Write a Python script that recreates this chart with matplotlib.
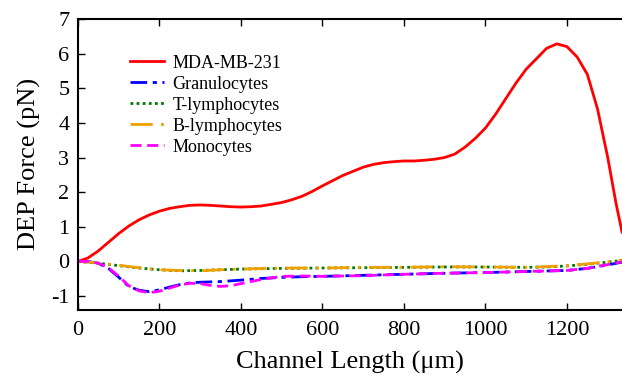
import numpy as np
import matplotlib
matplotlib.use('Agg')
import matplotlib.pyplot as plt

plt.rcParams['font.family'] = ['Liberation Serif', 'DejaVu Serif']
plt.rcParams['axes.unicode_minus'] = False

# red curve, MDA-MB-231
x_mda = [0, 25, 50, 75, 100, 125, 150, 175, 200, 225, 250, 275, 300, 325, 350, 375,
         400, 425, 450, 475, 500, 525, 550, 575, 600, 625, 650, 675, 700, 725, 750,
         775, 800, 825, 850, 875, 900, 925, 950, 975, 1000, 1025, 1050, 1075, 1100,
         1125, 1150, 1175, 1200, 1225, 1250, 1275, 1300, 1320, 1335]
y_mda = [0.0, 0.1, 0.3, 0.55, 0.8, 1.02, 1.2, 1.34, 1.45, 1.53, 1.58, 1.62, 1.63,
         1.62, 1.6, 1.58, 1.57, 1.58, 1.6, 1.65, 1.7, 1.78, 1.88, 2.02, 2.18, 2.33,
         2.48, 2.6, 2.72, 2.8, 2.85, 2.88, 2.9, 2.9, 2.92, 2.95, 3.0, 3.1, 3.3, 3.55,
         3.85, 4.25, 4.7, 5.15, 5.55, 5.85, 6.15, 6.28, 6.2, 5.9, 5.4, 4.4, 3.0, 1.7,
         0.85]

# granulocytes / monocytes
x_gm = [0, 25, 50, 75, 100, 125, 150, 175, 200, 225, 250, 275, 300, 325, 350, 375,
        400, 450, 500, 550, 600, 700, 800, 900, 1000, 1100, 1200, 1250, 1300, 1335]
y_gran = [0, 0, -0.05, -0.2, -0.45, -0.72, -0.83, -0.87, -0.82, -0.74, -0.67, -0.62,
          -0.6, -0.59, -0.58, -0.56, -0.54, -0.49, -0.46, -0.44, -0.43, -0.4, -0.37,
          -0.34, -0.32, -0.29, -0.26, -0.2, -0.1, -0.02]
y_mono = [0, 0, -0.05, -0.18, -0.42, -0.7, -0.85, -0.9, -0.86, -0.77, -0.68, -0.63,
          -0.64, -0.69, -0.72, -0.7, -0.64, -0.52, -0.43, -0.42, -0.43, -0.41, -0.37,
          -0.34, -0.32, -0.29, -0.26, -0.2, -0.09, -0.01]

# T / B lymphocytes
x_lym = [0, 50, 100, 150, 200, 250, 300, 350, 400, 500, 600, 700, 800, 900, 1000,
         1100, 1150, 1200, 1250, 1300, 1335]
y_tlym = [0, -0.05, -0.12, -0.19, -0.24, -0.27, -0.26, -0.24, -0.22, -0.2, -0.19,
          -0.18, -0.17, -0.16, -0.16, -0.17, -0.16, -0.13, -0.08, -0.02, 0.03]
y_blym = [0, -0.04, -0.11, -0.18, -0.24, -0.26, -0.27, -0.24, -0.22, -0.19, -0.19,
          -0.17, -0.17, -0.15, -0.16, -0.17, -0.15, -0.12, -0.07, -0.01, 0.04]

fig = plt.figure(figsize=(6.22, 3.78), dpi=100)
ax = fig.add_axes([0.125, 0.18, 0.875, 0.77])

ax.plot(x_mda, y_mda, color='#ff0000', lw=2, label='MDA-MB-231')
ax.plot(x_gm, y_gran, color='#0000ff', lw=2, ls=(0, (6, 2, 1.5, 2)), label='Granulocytes')
ax.plot(x_lym, y_tlym, color='#007a00', lw=2, ls=(0, (1, 1.2)), label='T-lymphocytes')
ax.plot(x_lym, y_blym, color='#f0a000', lw=2, ls=(0, (8, 3, 1, 3)), label='B-lymphocytes')
ax.plot(x_gm, y_mono, color='#ff00ff', lw=2, ls=(0, (4, 2)), label='Monocytes')

ax.set_xlim(0, 1335)
ax.set_ylim(-1.4, 7)
ax.set_xticks([0, 200, 400, 600, 800, 1000, 1200])
ax.set_yticks([-1, 0, 1, 2, 3, 4, 5, 6, 7])
ax.tick_params(direction='in', length=5, width=1, labelsize=16, top=True, right=False)
ax.tick_params(axis='x', pad=8)
ax.tick_params(axis='y', pad=6)
for s in ['left', 'bottom', 'top']:
    ax.spines[s].set_linewidth(1.5)
ax.spines['right'].set_visible(False)

ax.set_xlabel('Channel Length (μm)', fontsize=19, labelpad=8)
ax.set_ylabel('DEP Force (pN)', fontsize=19, labelpad=7)

ax.legend(loc='upper left', bbox_to_anchor=(0.209, 0.855), bbox_transform=fig.transFigure,
          frameon=False, fontsize=13, handlelength=1.9, handletextpad=0.45,
          labelspacing=0.22, borderaxespad=0, borderpad=0)

fig.savefig('out.png', dpi=100)
